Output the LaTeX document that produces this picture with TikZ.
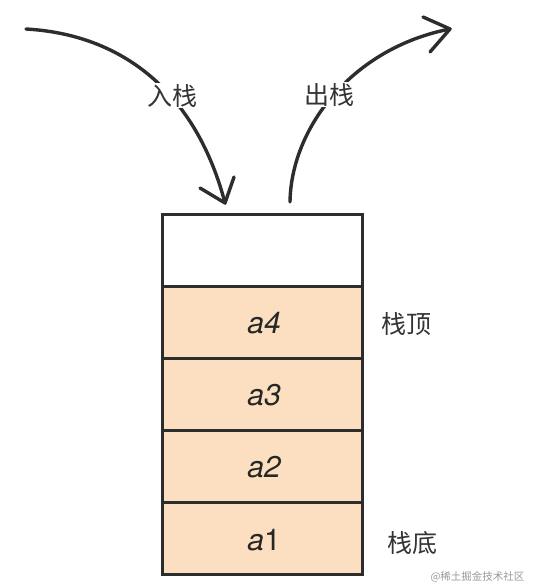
\documentclass[tikz,border=0pt]{standalone}
\usepackage{fontspec}
\setmainfont{TeX Gyre Heros}
\newfontfamily\cjk{Noto Sans CJK SC}
\begin{document}
\begin{tikzpicture}[x=1pt,y=-1pt,
  cell/.style={draw=linegray,line width=3pt,minimum width=200pt,minimum height=72pt,inner sep=0pt,outer sep=0pt,fill=peach},
  cellval/.style={font=\fontsize{30}{30}\selectfont\itshape,text=black!85},
  cjklabel/.style={font=\cjk\fontsize{25}{25}\selectfont,text=black!80},
  arr/.style={draw=linegray,line width=3.4pt,line cap=round,line join=round},
  tag/.style={cjklabel,fill=white,inner sep=1pt}]
\definecolor{peach}{RGB}{252,222,192}
\definecolor{linegray}{RGB}{45,45,45}
\useasboundingbox (0,0) rectangle (532,588);
\fill[white] (0,0) rectangle (532,588);
% stack cells
\node[cell,fill=white] (c5) at (262,250) {};
\node[cell] (c4) at (262,322) {};
\node[cell] (c3) at (262,394) {};
\node[cell] (c2) at (262,466) {};
\node[cell] (c1) at (262,538) {};
\node[cellval] (v4) at (264,323) {a4};
\node[cellval] (v3) at (264,395) {a3};
\node[cellval] (v2) at (264,467) {a2};
\node[cellval] (v1) at (264,540) {a{\upshape 1}};
\node[cjklabel] (top) at (406,324) {栈顶};
\node[cjklabel] (bot) at (412,543) {栈底};
% push arrow
\coordinate (ps) at (26,29);
\coordinate (pt) at (225,203);
\coordinate (pa) at (200,188);
\coordinate (pb) at (234,177);
\draw[arr] (ps) .. controls (130,35) and (198,100) .. (pt);
\draw[arr] (pa) -- (pt) -- (pb);
% pop arrow
\coordinate (qs) at (290,202);
\coordinate (qt) at (450,29);
\coordinate (qa) at (423,17);
\coordinate (qb) at (430,52);
\draw[arr] (qs) .. controls (291,128) and (352,48) .. (qt);
\draw[arr] (qa) -- (qt) -- (qb);
\node[tag] (push) at (172,96) {入栈};
\node[tag] (pop) at (329,95) {出栈};
\node[font=\cjk\fontsize{10.5}{10.5}\selectfont,text=black!40,anchor=east] (wm) at (528,577) {@稀土掘金技术社区};
\end{tikzpicture}
\end{document}
